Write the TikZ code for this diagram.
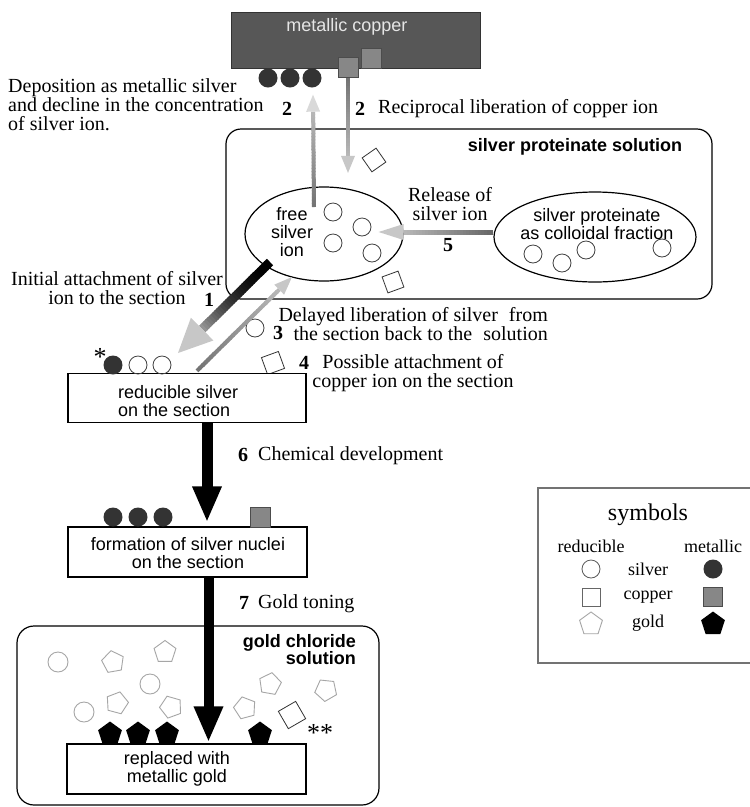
\documentclass[tikz,border=0pt]{standalone}
\usepackage{fontspec}
\setmainfont{Liberation Serif}
\setsansfont{Liberation Sans}
\usetikzlibrary{shapes.geometric,arrows.meta,calc}
\definecolor{cBlack}{gray}{0}
\definecolor{cGa}{gray}{0.4}
\definecolor{cGb}{gray}{0.45}
\definecolor{cGc}{gray}{0.6}
\definecolor{cGd}{gray}{0.72}
\definecolor{cGe}{gray}{0.78}
\definecolor{cGf}{gray}{0.85}
% tail, tip, shaft width, tail colour, shaft end colour, head colour, half head width, head length, exponent
\newcommand\gradarrow[9]{%
  \coordinate (ghb) at ($(#2)!#8!(#1)$);
  \foreach \gi in {0,...,29}{%
    \pgfmathsetmacro\gpa{\gi/30}%
    \pgfmathsetmacro\gpb{min(1,(\gi+1.3)/30)}%
    \pgfmathsetmacro\gpc{100-100*(((\gi+0.5)/30)^#9)}%
    \draw[line width=#3, draw=#4!\gpc!#5] ($(#1)!\gpa!(ghb)$) -- ($(#1)!\gpb!(ghb)$);
  }
  \fill[#6] (#2) -- ($(ghb)!#7!90:(#2)$) -- ($(ghb)!#7!-90:(#2)$) -- cycle;
}
\tikzset{
 lab/.style={font=\fontsize{20}{19}\selectfont, inner sep=0pt},
 legl/.style={font=\fontsize{18}{18}\selectfont, inner sep=0pt},
 num/.style={font=\bfseries\fontsize{20}{19}\selectfont, inner sep=0pt},
 sans/.style={font=\sffamily\fontsize{18}{18}\selectfont, inner sep=0pt, align=center},
 sansb/.style={font=\sffamily\bfseries\fontsize{18}{17}\selectfont, inner sep=0pt},
 stepbox/.style={draw, line width=1.3pt, fill=white, minimum width=238pt, minimum height=49pt, inner sep=0pt},
 solbox/.style={draw, line width=1.2pt, rounded corners=15pt, inner sep=0pt},
 oval/.style={ellipse, draw, line width=1.2pt, inner sep=0pt},
 agion/.style={circle, draw=black!75, line width=0.8pt, minimum size=18pt, inner sep=0pt},
 agmet/.style={circle, fill=black!80, minimum size=19pt, inner sep=0pt},
 cuion/.style={rectangle, draw=black!80, line width=0.8pt, minimum size=17pt, inner sep=0pt},
 cumet/.style={rectangle, fill=black!47, draw=black!70, line width=0.8pt, minimum size=20pt, inner sep=0pt},
 auion/.style={regular polygon, regular polygon sides=5, draw=black!35, line width=0.9pt, minimum size=23pt, inner sep=0pt},
 aumet/.style={regular polygon, regular polygon sides=5, fill=black, minimum size=25pt, inner sep=0pt},
 agfaint/.style={circle, draw=black!35, line width=0.9pt, minimum size=20pt, inner sep=0pt},
 bigarrow/.style={line width=11pt, -{Triangle[width=27pt,length=36pt]}},
 star/.style={font=\fontsize{26}{26}\selectfont, inner sep=0pt},
}
\begin{document}
\begin{tikzpicture}[x=1pt,y=-1pt]
\useasboundingbox (0,0) rectangle (750,807);
\fill[white] (0,0) rectangle (750,807);

% ---------- metallic copper ----------
\node[draw=black!80, fill=black!66, line width=1pt, minimum width=249pt, minimum height=56pt, inner sep=0pt] (cu) at (355.5,40) {};
\node[sans, text=black!10] (cutxt) at (347,27) {metallic copper};
\node[agmet] (m1) at (268,78) {};
\node[agmet] (m2) at (290,78) {};
\node[agmet] (m3) at (312,78) {};
\node[cumet] (sq1) at (348,67.5) {};
\node[cumet] (sq2) at (371.5,58) {};

\node[lab, align=left, anchor=west, font=\fontsize{20}{19}\selectfont] (dep) at (8,105)
  {Deposition as metallic silver\\and decline in the concentration\\of silver ion.};
\node[num] (n2a) at (287,109) {2};
\node[num] (n2b) at (360,109) {2};
\node[lab, anchor=west] (rec) at (378,109) {Reciprocal liberation of copper ion};

% ---------- silver proteinate solution ----------
\node[solbox, minimum width=486pt, minimum height=170pt] (ssol) at (469,214) {};
\node[sansb] (ssoltxt) at (575,147) {silver proteinate solution};
\node[oval, minimum width=158pt, minimum height=94pt] (fsi) at (324,234) {};
\node[sans] (fsitxt) at (292,232) {free\\silver\\ion};
\node[oval, minimum width=202pt, minimum height=90pt] (spc) at (595,237) {};
\node[sans] (spctxt) at (597,224) {silver proteinate\\as colloidal fraction};

\node[agion] (f1) at (333,212) {};
\node[agion] (f2) at (362,227) {};
\node[agion] (f3) at (333,243) {};
\node[agion] (f4) at (372,253) {};
\node[agion] (s1) at (533,254) {};
\node[agion] (s2) at (562,263) {};
\node[agion] (s3) at (586,250) {};
\node[agion] (s4) at (662,248) {};
\node[cuion, rotate=35] (q1) at (374,160) {};
\node[cuion, rotate=20] (q2) at (393,282) {};

\node[lab, align=center] (rel) at (450,204) {Release of\\silver ion};
\node[num] (n5) at (448,245) {5};

% ---------- arrows 2 and 5 ----------
\coordinate (a2utail) at ($(fsi.center)+(-10,-27)$);
\coordinate (a2utip) at ($(m3.south)+(1,7)$);
\gradarrow{a2utail}{a2utip}{4pt}{cGb}{cGd}{cGf}{7pt}{17pt}{1}
\coordinate (a2dtip) at ($(sq1.south)+(0,95)$);
\gradarrow{sq1.south}{a2dtip}{4pt}{cGb}{cGd}{cGe}{7pt}{17pt}{1}
\coordinate (a5tail) at ($(spc.west)+(0,-5)$);
\coordinate (a5tip) at ($(fsi.east)+(-25,-2)$);
\gradarrow{a5tail}{a5tip}{5pt}{cGa}{cGd}{cGe}{8pt}{25pt}{1}

% ---------- left part ----------
\node[lab, align=center] (init) at (117,288) {Initial attachment of silver\\ion to the section};
\node[num] (n1) at (209,300) {1};
\node[agion] (c3) at (255,328) {};
\node[num] (n3) at (278,333) {3};
\node[lab, align=right, anchor=east] (del) at (548,324)
  {Delayed liberation of silver\hspace{0.3em} from\\the section back to the\hspace{0.3em} solution};
\node[cuion, rotate=20, minimum size=18pt] (c4) at (273,363) {};
\node[num] (n4) at (304,363) {4};
\node[lab, align=center] (pos) at (413,373) {Possible attachment of\\copper ion on the section};

\node[stepbox] (rsb) at (187,398) {};
\node[sans, align=left, anchor=west] (rsbtxt) at (118,401) {reducible silver\\on the section};
\node[star] (ast) at (100,357) {*};
\node[agmet] (r1) at (113,365) {};
\node[agion] (r2) at (138,365) {};
\node[agion] (r3) at (162,365) {};

\coordinate (a1tail) at (270,262);
\coordinate (a1tip) at (178,353);
\gradarrow{a1tail}{a1tip}{9pt}{cBlack}{cGc}{cGe}{16pt}{34pt}{2}
\coordinate (a3tail) at ($(rsb.north)+(10,-2)$);
\coordinate (a3tip) at (292,277);
\gradarrow{a3tail}{a3tip}{4pt}{cGb}{cGd}{cGe}{7pt}{18pt}{1}

% ---------- formation ----------
\node[stepbox, minimum width=239pt, minimum height=50pt] (fnb) at (187.5,552) {};
\node[sans] (fnbtxt) at (188,553) {formation of silver nuclei\\on the section};
\node[agmet] (k1) at (113,517) {};
\node[agmet] (k2) at (138,517) {};
\node[agmet] (k3) at (163,517) {};
\node[cumet] (k4) at (260,517) {};
\draw[bigarrow, shorten >=4pt] ($(rsb.south)+(20,0)$) -- ($(fnb.north)+(19.5,0)$);
\node[num] (n6) at (243,455) {6};
\node[lab, anchor=west] (chem) at (258,456) {Chemical development};

% ---------- gold chloride ----------
\node[solbox, rounded corners=17pt, minimum width=362pt, minimum height=179pt] (gsol) at (198,715.5) {};
\node[sansb, align=right, anchor=east] (gsoltxt) at (356,650) {gold chloride\\solution};
\node[stepbox, minimum width=239pt, minimum height=50pt] (rgb) at (186.5,769) {};
\node[sans] (rgbtxt) at (177,769) {replaced with\\metallic gold};
\node[num] (n7) at (244,603) {7};
\node[lab, anchor=west] (tone) at (258,604) {Gold toning};
\draw[bigarrow, line width=10pt, shorten >=1pt] ($(fnb.south)+(21,0)$) -- ($(rgb.north)+(22,0)$);

\node[agfaint] (g1) at (58,662) {};
\node[agfaint] (g2) at (150,684) {};
\node[agfaint] (g3) at (84,712) {};
\node[auion, shape border rotate=10] (p1) at (113,662) {};
\node[auion] (p2) at (165,652) {};
\node[auion, shape border rotate=-15] (p3) at (117,703) {};
\node[auion, shape border rotate=20] (p4) at (171,707) {};
\node[auion, shape border rotate=15] (p5) at (245,708) {};
\node[auion, shape border rotate=-10] (p6) at (270,684) {};
\node[auion, shape border rotate=30] (p7) at (326,690) {};
\node[cuion, rotate=30, minimum size=20pt] (gq) at (292,715) {};
\node[star] (dast) at (320,733) {**};
\node[aumet] (b1) at (110,734) {};
\node[aumet] (b2) at (138,734) {};
\node[aumet] (b3) at (167,734) {};
\node[aumet] (b4) at (260,734) {};

% ---------- legend ----------
\draw[draw=black!55, line width=1.5pt] (538,488) rectangle (770,663);
\node[font=\fontsize{24}{24}\selectfont, inner sep=0pt] (symt) at (648,515) {symbols};
\node[legl] (lred) at (591,546) {reducible};
\node[legl] (lmet) at (713,546) {metallic};
\node[agion, draw=black!65] (la1) at (591,569) {};
\node[legl] (lag) at (648,569) {silver};
\node[agmet] (la2) at (713,569) {};
\node[cuion, draw=black!60, minimum size=18pt] (lc1) at (591,597) {};
\node[legl] (lcu) at (648,597) {copper};
\node[cumet, minimum size=19pt] (lc2) at (713,597) {};
\node[auion, minimum size=24pt] (lg1) at (591,624) {};
\node[legl] (lau) at (648,623) {gold};
\node[aumet] (lg2) at (713,624) {};
\end{tikzpicture}
\end{document}
